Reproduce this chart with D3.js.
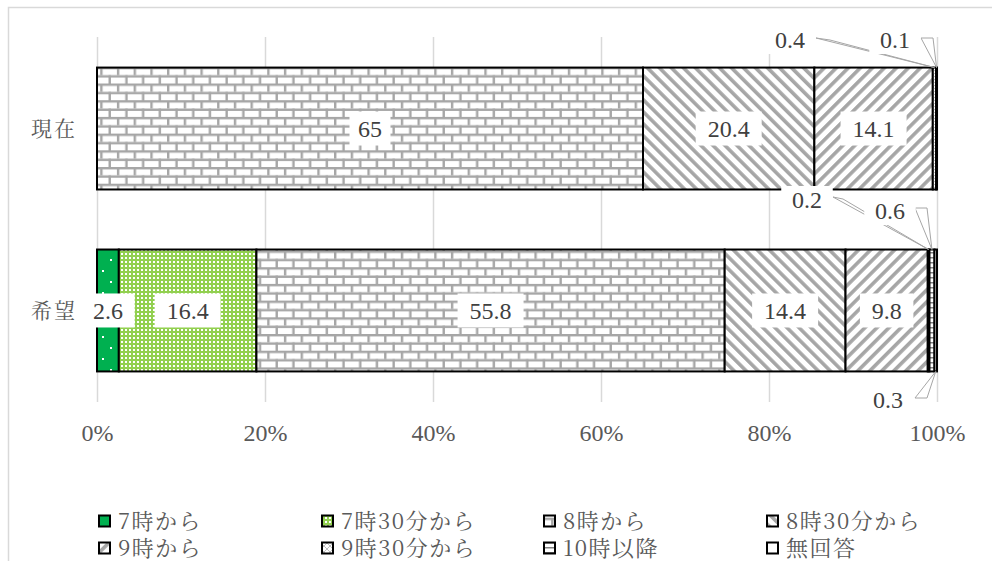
<!DOCTYPE html>
<html>
<head>
<meta charset="utf-8">
<script src="https://cdn.jsdelivr.net/npm/d3@7"></script>
<style>
  html, body { margin: 0; padding: 0; background: #fff; }
</style>
</head>
<body>
<svg id="chart" width="992" height="561"></svg>
<script>
// ---- data ----
const categories = ["現在", "希望"];
const seriesNames = ["7時から", "7時30分から", "8時から", "8時30分から", "9時から", "9時30分から", "10時以降", "無回答"];
const currentValues = [0, 0, 65, 20.4, 14.1, 0.4, 0.1, 0];
const desiredValues = [2.6, 16.4, 55.8, 14.4, 9.8, 0.2, 0.6, 0.3];
const tickValues = [0, 0.2, 0.4, 0.6, 0.8, 1];

const valuesByCategory = [currentValues, desiredValues];
const rows = categories.map((c, i) => {
  const o = { category: c };
  seriesNames.forEach((s, j) => { o[s] = valuesByCategory[i][j]; });
  return o;
});
const stacked = d3.stack().keys(seriesNames).offset(d3.stackOffsetExpand)(rows);

// ---- layout ----
const NUM_FONT = "Liberation Serif";     // numbers
const JP_FONT = "Noto Serif CJK JP";     // Japanese labels
const svg = d3.select("#chart").attr("font-family", NUM_FONT);
const plotTop = 37, plotBottom = 402;
const x = d3.scaleLinear().domain([0, 1]).range([97, 937]);
const y = d3.scaleBand().domain(categories).range([plotTop, plotBottom])
  .paddingInner(0.33).paddingOuter(0.168);

const textColor = "#595959";
const labelColor = "#404040";
const numSize = 24;
const jpSize = 21;

// outer frame
svg.append("rect")
  .attr("x", 8.5).attr("y", 7.5).attr("width", 1000).attr("height", 600)
  .attr("fill", "none").attr("stroke", "#d9d9d9").attr("stroke-width", 1.5);

// ---- fill patterns ----
const defs = svg.append("defs");
function makePattern(id, w, h, bg, transform) {
  const p = defs.append("pattern").attr("id", id)
    .attr("patternUnits", "userSpaceOnUse").attr("width", w).attr("height", h);
  if (transform) p.attr("patternTransform", transform);
  p.append("rect").attr("width", w).attr("height", h).attr("fill", bg);
  return p;
}
// 7時から: green with sparse white dots
{
  const p = makePattern("pat0", 16, 22, "#00B050");
  p.append("rect").attr("x", 6).attr("y", 6).attr("width", 2).attr("height", 2).attr("fill", "#fff");
  p.append("rect").attr("x", 14).attr("y", 17).attr("width", 2).attr("height", 2).attr("fill", "#fff");
}
// 7時30分から: light green with dense white dots
{
  const p = makePattern("pat1", 4, 4, "#92D050");
  p.append("rect").attr("x", 1).attr("y", 1).attr("width", 2).attr("height", 2).attr("fill", "#fff");
}
// 8時から: horizontal brick
{
  const s = 16.7, hs = s / 2, lw = 2.4, c = "#a6a6a6";
  const p = makePattern("pat2", s, s, "#fff");
  p.append("rect").attr("x", 0).attr("y", 0).attr("width", s).attr("height", lw).attr("fill", c);
  p.append("rect").attr("x", 0).attr("y", hs).attr("width", s).attr("height", lw).attr("fill", c);
  p.append("rect").attr("x", 0).attr("y", 0).attr("width", lw).attr("height", hs).attr("fill", c);
  p.append("rect").attr("x", hs).attr("y", hs).attr("width", lw).attr("height", hs).attr("fill", c);
}
// 8時30分から: wide downward diagonal
{
  const p = makePattern("pat3", 8.5, 8.5, "#fff", "rotate(-45)");
  p.append("rect").attr("width", 3.6).attr("height", 8.5).attr("fill", "#a6a6a6");
}
// 9時から: wide upward diagonal
{
  const p = makePattern("pat4", 8.5, 8.5, "#fff", "rotate(45)");
  p.append("rect").attr("width", 3.6).attr("height", 8.5).attr("fill", "#a6a6a6");
}
// 9時30分から: light diagonal cross
{
  const p = makePattern("pat5", 6, 6, "#fff");
  p.append("path").attr("d", "M0,6L6,0M0,0L6,6").attr("stroke", "#bfbfbf").attr("stroke-width", 1);
}
// 10時以降: horizontal lines
{
  const p = makePattern("pat6", 6, 5, "#fff");
  p.append("rect").attr("x", 0).attr("y", 2).attr("width", 6).attr("height", 1.5).attr("fill", "#808080");
}
// 無回答: plain white
makePattern("pat7", 4, 4, "#fff");

// ---- gridlines + axis ----
const axis = d3.axisBottom(x).tickValues(tickValues).tickFormat(d3.format(".0%"))
  .tickSizeInner(-(plotBottom - plotTop)).tickSizeOuter(0);
const gAxis = svg.append("g").attr("transform", `translate(0,${plotBottom})`).call(axis)
  .attr("font-size", numSize).attr("font-family", NUM_FONT);
gAxis.select(".domain").remove();
gAxis.selectAll(".tick line").attr("stroke", "#d9d9d9").attr("stroke-width", 1.5);
gAxis.selectAll(".tick text")
  .attr("y", 31).attr("dy", "0.35em").attr("font-family", NUM_FONT)
  .attr("font-size", numSize).attr("fill", textColor);

// ---- category labels ----
svg.append("g").selectAll("text").data(categories).join("text")
  .attr("x", 77).attr("y", d => y(d) + y.bandwidth() / 2)
  .attr("dy", "0.35em").attr("text-anchor", "end").attr("font-family", JP_FONT)
  .attr("font-size", jpSize).attr("letter-spacing", 2).attr("fill", textColor)
  .text(d => d);

// ---- stacked bars ----
const segments = [];
stacked.forEach((layer, si) => {
  layer.forEach((d, ci) => {
    const value = valuesByCategory[ci][si];
    if (value > 0) segments.push({ si, ci, key: layer.key, value, x0: d[0], x1: d[1], category: categories[ci] });
  });
});

svg.append("g").selectAll("rect").data(segments).join("rect")
  .attr("x", d => x(d.x0)).attr("y", d => y(d.category))
  .attr("width", d => x(d.x1) - x(d.x0)).attr("height", y.bandwidth())
  .attr("fill", d => `url(#pat${d.si})`)
  .attr("stroke", "#000").attr("stroke-width", 2);

// ---- in-bar value labels (white boxes) ----
const gLabels = svg.append("g");
segments.filter(d => d.value >= 1).forEach(d => {
  const cx = x((d.x0 + d.x1) / 2), cy = y(d.category) + y.bandwidth() / 2;
  const label = String(d.value);
  const w = label.length * 12.5 + 16;
  gLabels.append("rect").attr("x", cx - w / 2).attr("y", cy - 17)
    .attr("width", w).attr("height", 34).attr("fill", "#fff");
  gLabels.append("text").attr("x", cx).attr("y", cy).attr("dy", "0.35em")
    .attr("text-anchor", "middle").attr("font-family", NUM_FONT)
    .attr("font-size", numSize).attr("fill", labelColor)
    .text(label);
});

// ---- callouts for thin segments ----
const calloutLayout = [
  { ci: 0, key: "9時30分から", lx: 790, ly: 40, base: [[816, 38], [830, 40]], edge: "top" },
  { ci: 0, key: "10時以降", lx: 895, ly: 40, base: [[921, 38], [933, 38]], edge: "top" },
  { ci: 1, key: "9時30分から", lx: 807, ly: 200, base: [[833, 197], [843, 199]], edge: "top" },
  { ci: 1, key: "10時以降", lx: 890, ly: 211, base: [[915, 208], [927, 208]], edge: "top" },
  { ci: 1, key: "無回答", lx: 888, ly: 400, base: [[915, 398], [927, 398]], edge: "bottom" }
];
const gCallouts = svg.append("g");
calloutLayout.forEach(c => {
  const seg = segments.find(s => s.ci === c.ci && s.key === c.key);
  const tipX = x((seg.x0 + seg.x1) / 2);
  const tipY = c.edge === "top" ? y(seg.category) : y(seg.category) + y.bandwidth();
  gCallouts.append("polygon")
    .attr("points", [c.base[0], c.base[1], [tipX, tipY]].map(p => p.join(",")).join(" "))
    .attr("fill", "#fff").attr("stroke", "#a6a6a6").attr("stroke-width", 1);
  const label = String(seg.value);
  const w = label.length * 12.5 + 14;
  gCallouts.append("rect").attr("x", c.lx - w / 2).attr("y", c.ly - 14)
    .attr("width", w).attr("height", 28).attr("fill", "#fff");
  gCallouts.append("text").attr("x", c.lx).attr("y", c.ly).attr("dy", "0.35em")
    .attr("text-anchor", "middle").attr("font-family", NUM_FONT)
    .attr("font-size", numSize).attr("fill", labelColor)
    .text(label);
});

// ---- legend ----
const legendCols = [98, 321, 543, 766];
const legendRows = [521, 548];
const gLegend = svg.append("g");
seriesNames.forEach((name, i) => {
  const lx = legendCols[i % 4], ly = legendRows[Math.floor(i / 4)];
  gLegend.append("rect").attr("x", lx + 1).attr("y", ly - 5.5).attr("width", 11).attr("height", 11)
    .attr("fill", `url(#pat${i})`).attr("stroke", "#000").attr("stroke-width", 2);
  gLegend.append("text").attr("x", lx + 20).attr("y", ly).attr("dy", "0.35em")
    .attr("font-family", JP_FONT)
    .attr("font-size", 22).attr("letter-spacing", 1.5).attr("fill", textColor).text(name);
});
</script>
</body>
</html>
